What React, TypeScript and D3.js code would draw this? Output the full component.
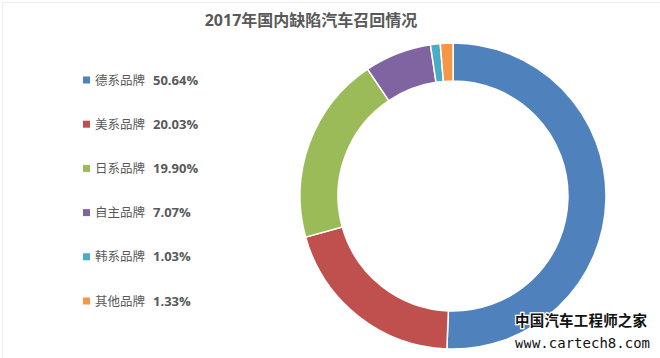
import React, { useEffect, useRef } from "react";
import * as d3 from "d3";

const brands = ["德系品牌", "美系品牌", "日系品牌", "自主品牌", "韩系品牌", "其他品牌"];
const shares = [50.64, 20.03, 19.9, 7.07, 1.03, 1.33];
const colors = ["#4F81BD", "#C0504D", "#9BBB59", "#8064A2", "#4BACC6", "#F79646"];
const title = "2017年国内缺陷汽车召回情况";

export default function App() {
  const svgRef = useRef<SVGSVGElement | null>(null);
  const width = 660;
  const height = 358;

  useEffect(() => {
    if (!svgRef.current) return;
    document.body.style.margin = "0";

    const svg = d3.select(svgRef.current);
    svg.selectAll("*").remove();

    svg.append("rect").attr("width", width).attr("height", height).attr("fill", "#fff");
    // faint frame of the original screenshot (top + left only)
    svg
      .append("path")
      .attr("d", `M2.5,${height}V2.5H${width}`)
      .attr("fill", "none")
      .attr("stroke", "#eeeeee");

    // title
    svg
      .append("text")
      .attr("x", 311)
      .attr("y", 26)
      .attr("text-anchor", "middle")
      .attr("font-family", "'Open Sans', 'Noto Sans CJK SC', sans-serif")
      .attr("font-size", 16)
      .attr("font-weight", "bold")
      .attr("fill", "#595959")
      .text(title);

    // doughnut
    const cx = 453;
    const cy = 196;
    const outer = 153;
    const inner = 115;

    const pie = d3
      .pie<number>()
      .sort(null)
      .value((v) => v)
      .startAngle(0)
      .endAngle(2 * Math.PI);
    const arc = d3.arc<d3.PieArcDatum<number>>().innerRadius(inner).outerRadius(outer);

    const g = svg.append("g").attr("transform", `translate(${cx},${cy})`);
    g.selectAll("path")
      .data(pie(shares))
      .enter()
      .append("path")
      .attr("d", arc)
      .attr("fill", (_, i) => colors[i])
      .attr("stroke", "#fff")
      .attr("stroke-width", 1.5);

    // legend
    const y = d3
      .scalePoint<string>()
      .domain(brands)
      .range([80, 301]);

    const leg = svg
      .append("g")
      .attr("font-family", "'Open Sans', 'Noto Sans CJK SC', sans-serif")
      .attr("fill", "#595959");

    brands.forEach((b, i) => {
      const yy = y(b)!;
      leg
        .append("rect")
        .attr("x", 83)
        .attr("y", yy - 3.5)
        .attr("width", 7)
        .attr("height", 7)
        .attr("fill", colors[i]);
      leg
        .append("text")
        .attr("x", 95)
        .attr("y", yy)
        .attr("dy", "0.36em")
        .attr("font-size", 12.5)
        .text(b);
      leg
        .append("text")
        .attr("x", 153)
        .attr("y", yy)
        .attr("dy", "0.36em")
        .attr("font-size", 13)
        .attr("font-weight", "bold")
        .text(d3.format(".2f")(shares[i]) + "%");
    });

    // watermark
    const wm = svg.append("g").attr("fill", "#111").attr("stroke", "#fff").attr("stroke-width", 2.5).attr("paint-order", "stroke");
    wm.append("text")
      .attr("x", 515)
      .attr("y", 326)
      .attr("font-family", "'Noto Sans CJK SC', sans-serif")
      .attr("font-size", 14.5)
      .attr("font-weight", "bold")
      .attr("textLength", 132)
      .text("中国汽车工程师之家");
    wm.append("text")
      .attr("x", 515)
      .attr("y", 348)
      .attr("font-family", "'DejaVu Sans Mono', monospace")
      .attr("font-size", 14)
      .attr("textLength", 135)
      .text("www.cartech8.com");
  }, []);

  return <svg ref={svgRef} width={width} height={height} style={{ display: "block" }} />;
}
